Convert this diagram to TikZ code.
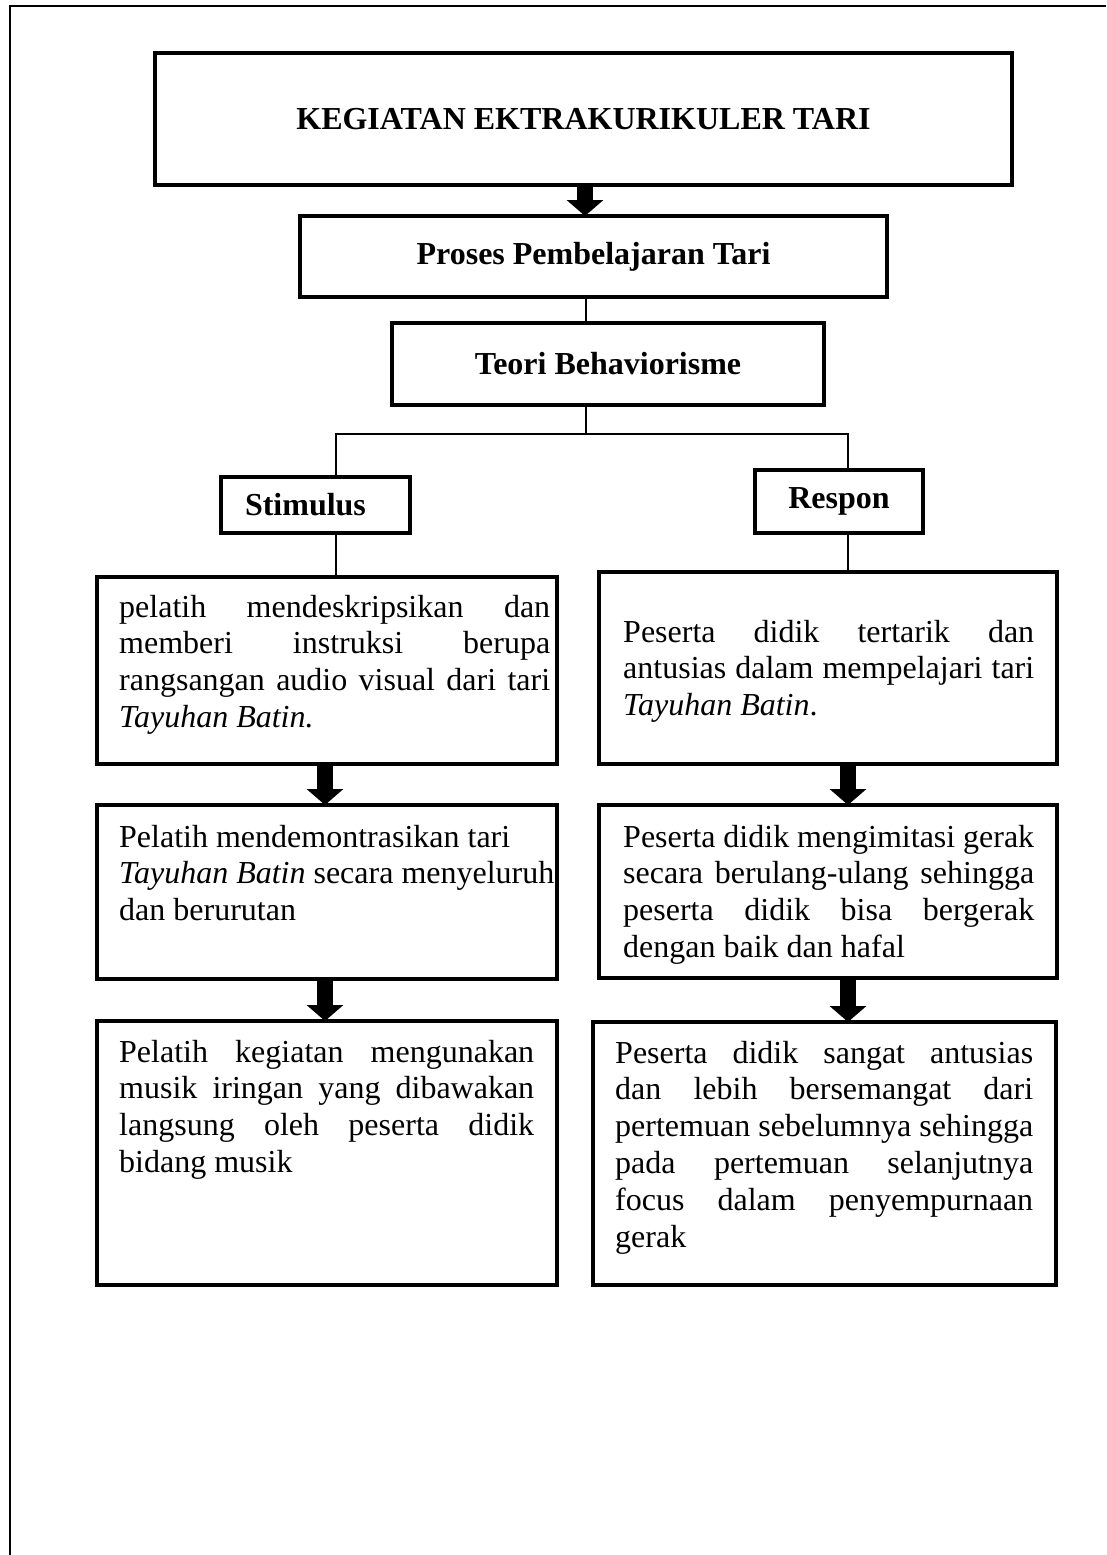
\documentclass[tikz,border=0pt]{standalone}
\usepackage{fontspec}
\setmainfont{Liberation Serif}
\usetikzlibrary{arrows.meta}
\hbadness=10000
\hfuzz=20pt
\newcommand{\jline}[2]{\makebox[#1][s]{#2}}
\begin{document}
\begin{tikzpicture}[x=1pt,y=-1pt,
  box/.style={draw, line width=4pt, inner sep=0pt, outer sep=0pt},
  headbox/.style={box, font=\fontsize{32}{36.8}\selectfont\bfseries},
  txt/.style={anchor=base west, inner sep=0pt, font=\fontsize{32}{36.8}\selectfont},
  conn/.style={line width=1.6pt},
  barrow/.style={line width=16pt, -{Triangle[width=36pt,length=16pt]}},
  frame/.style={line width=2.5pt}]
\useasboundingbox (0,0) rectangle (1106,1555);
\draw[frame] (10,1555) -- (10,6) -- (1106,6);

% header boxes
\node[headbox, minimum width=857pt, minimum height=132pt] (title) at (583.5,119) {KEGIATAN EKTRAKURIKULER TARI};
\node[headbox, minimum width=587pt, minimum height=81pt] (proses) at (593.5,256.5) {Proses Pembelajaran Tari};
\node[headbox, minimum width=432pt, minimum height=82pt] (teori) at (608,364) {Teori Behaviorisme};
\node[headbox, minimum width=189pt, minimum height=56pt, text width=141pt, inner xsep=24pt, align=left] (stim) at (315.5,505) {Stimulus};
\node[headbox, minimum width=168pt, minimum height=63pt] (resp) at (839,501.5) {Respon};

% content boxes
\node[box, minimum width=460pt, minimum height=187pt] (s1) at (327,670.5) {};
\node[box, minimum width=460pt, minimum height=174pt] (s2) at (327,892) {};
\node[box, minimum width=460pt, minimum height=264pt] (s3) at (327,1153) {};
\node[box, minimum width=458pt, minimum height=192pt] (r1) at (828,668) {};
\node[box, minimum width=458pt, minimum height=173pt] (r2) at (828,891.5) {};
\node[box, minimum width=463pt, minimum height=263pt] (r3) at (824.5,1153.5) {};

% texts
\node[txt] (s1t) at (119,617) {\parbox[t]{431pt}{%
\jline{431pt}{pelatih mendeskripsikan dan}\\
\jline{431pt}{memberi instruksi berupa}\\
\jline{431pt}{rangsangan audio visual dari tari}\\
\textit{Tayuhan Batin.}}};
\node[txt] (s2t) at (119,847) {\parbox[t]{440pt}{%
Pelatih mendemontrasikan tari\\
\textit{Tayuhan Batin} secara menyeluruh\\
dan berurutan}};
\node[txt] (s3t) at (119,1062) {\parbox[t]{415pt}{%
\jline{415pt}{Pelatih kegiatan mengunakan}\\
\jline{415pt}{musik iringan yang dibawakan}\\
\jline{415pt}{langsung oleh peserta didik}\\
bidang musik}};
\node[txt] (r1t) at (623,642) {\parbox[t]{411pt}{%
\jline{411pt}{Peserta didik tertarik dan}\\
\jline{411pt}{antusias dalam mempelajari tari}\\
\textit{Tayuhan Batin}.}};
\node[txt] (r2t) at (623,847) {\parbox[t]{411pt}{%
\jline{411pt}{Peserta didik mengimitasi gerak}\\
\jline{411pt}{secara berulang-ulang sehingga}\\
\jline{411pt}{peserta didik bisa bergerak}\\
dengan baik dan hafal}};
\node[txt] (r3t) at (615,1063) {\parbox[t]{418pt}{%
\jline{418pt}{Peserta didik sangat antusias}\\
\jline{418pt}{dan lebih bersemangat dari}\\
\jline{418pt}{pertemuan sebelumnya sehingga}\\
\jline{418pt}{pada pertemuan selanjutnya}\\
\jline{418pt}{focus dalam penyempurnaan}\\
gerak}};

% connector coordinates
\coordinate (jt) at (586,434);
\coordinate (jl) at (336,434);
\coordinate (jr) at (848,434);
\coordinate (ca) at (585,0);
\coordinate (cs) at (325,0);
\coordinate (cr) at (848,0);

\draw[conn] (proses.south -| jt) -- (teori.north -| jt);
\draw[conn] (teori.south -| jt) -- (jt);
\draw[conn] (stim.north -| jl) -- (jl) -- (jr) -- (resp.north -| jr);
\draw[conn] (stim.south -| jl) -- (s1.north -| jl);
\draw[conn] (resp.south -| jr) -- (r1.north -| jr);

\draw[barrow] (title.south -| ca) -- (proses.north -| ca);
\draw[barrow] (s1.south -| cs) -- (s2.north -| cs);
\draw[barrow] (s2.south -| cs) -- (s3.north -| cs);
\draw[barrow] (r1.south -| cr) -- (r2.north -| cr);
\draw[barrow] (r2.south -| cr) -- (r3.north -| cr);
\end{tikzpicture}
\end{document}
